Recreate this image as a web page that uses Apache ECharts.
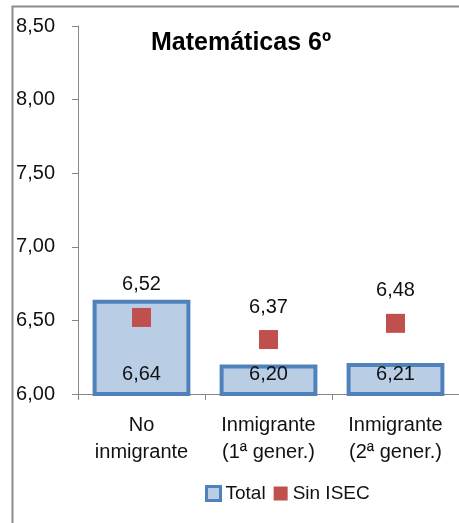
<!DOCTYPE html>
<html>
<head>
<meta charset="utf-8">
<script src="https://cdn.jsdelivr.net/npm/echarts@6/dist/echarts.min.js"></script>
<style>
html,body{margin:0;padding:0;background:#fff;}
#c{width:459px;height:523px;}
</style>
</head>
<body>
<div id="c"></div>
<script>
var categories = ['No\ninmigrante', 'Inmigrante\n(1ª gener.)', 'Inmigrante\n(2ª gener.)'];
var totalValues = [6.64, 6.20, 6.21];
var sinIsecValues = [6.52, 6.37, 6.48];
var titleText = 'Matemáticas 6º';
var seriesNames = ['Total', 'Sin ISEC'];

function fmt(v) { return Number(v).toFixed(2).replace('.', ','); }

var chart = echarts.init(document.getElementById('c'));
var font = 'Liberation Sans, Arial, sans-serif';
chart.setOption({
  animation: false,
  backgroundColor: '#fff',
  graphic: [{
    type: 'rect', left: 10, top: 4, silent: true,
    shape: { width: 520, height: 600 },
    style: { fill: 'none', stroke: '#8c8c8c', lineWidth: 2 }
  }],
  title: {
    text: titleText, left: 146, top: 26,
    textStyle: { fontFamily: font, fontSize: 25, fontWeight: 'bold', color: '#000' }
  },
  legend: {
    left: 200, top: 479, itemGap: 8, itemWidth: 14, itemHeight: 14,
    textStyle: { fontFamily: font, fontSize: 19, color: '#111' },
    data: [
      { name: seriesNames[0], icon: 'rect', itemStyle: { color: '#B9CDE5', borderColor: '#4F81BD', borderWidth: 3 } },
      { name: seriesNames[1], icon: 'rect', itemStyle: { color: '#C0504D', borderWidth: 0, opacity: 1 } }
    ]
  },
  grid: { left: 78, top: 26, width: 388, height: 368 },
  xAxis: {
    type: 'category', data: categories,
    axisLine: { lineStyle: { color: '#868686', width: 1 } },
    axisTick: { show: true, alignWithLabel: false, length: 6, lineStyle: { color: '#868686' } },
    axisLabel: { fontFamily: font, fontSize: 20, color: '#111', margin: 18, lineHeight: 27, interval: 0 }
  },
  yAxis: {
    type: 'value', min: 6, max: 8.5, interval: 0.5,
    splitLine: { show: false },
    axisLine: { show: true, lineStyle: { color: '#868686', width: 1 } },
    axisTick: { show: true, length: 6, lineStyle: { color: '#868686' } },
    axisLabel: { fontFamily: font, fontSize: 20, color: '#111', margin: 23, formatter: function (v) { return fmt(v); } }
  },
  series: [
    {
      name: seriesNames[0], type: 'bar', data: totalValues, barWidth: '77%',
      itemStyle: { color: '#B9CDE5', borderColor: '#4F81BD', borderWidth: 4 },
      label: {
        show: true, position: 'insideBottom', distance: 12,
        fontFamily: font, fontSize: 20, color: '#111',
        formatter: function (p) { return fmt(p.value); }
      }
    },
    {
      name: seriesNames[1], type: 'scatter', data: sinIsecValues, symbol: 'rect', symbolSize: 19,
      itemStyle: { color: '#C0504D', opacity: 1 },
      label: {
        show: true, position: 'top', distance: 13,
        fontFamily: font, fontSize: 20, color: '#111',
        formatter: function (p) { return fmt(p.value); }
      }
    }
  ]
});
</script>
</body>
</html>
